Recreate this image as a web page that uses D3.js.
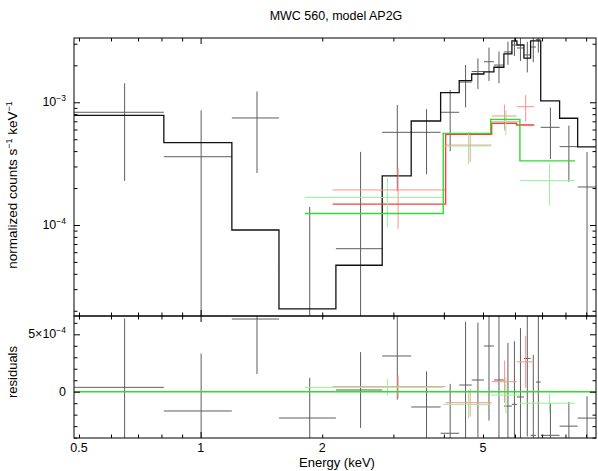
<!DOCTYPE html>
<html>
<head>
<meta charset="utf-8">
<script src="https://cdn.jsdelivr.net/npm/d3@7"></script>
<style>
  body { margin: 0; background: #fff; }
  text { font-family: "Liberation Sans", Arial, sans-serif; fill: #000; }
</style>
</head>
<body>
<div id="chart"></div>
<script>
// ---- data ----
// black instrument: bin edges (keV), folded model, data rate, residual, 1-sigma error
var blackEdges = [0.486, 0.811, 1.195, 1.563, 2.162, 2.815, 3.321, 3.927, 4.366, 4.688, 5.026,
                  5.321, 5.632, 5.895, 6.066, 6.313, 6.558, 6.76, 6.947, 7.737, 8.575, 9.517];
var blackModel = [7.83e-4, 4.69e-4, 9.1e-5, 2.07e-5, 4.7e-5, 2.51e-4, 7.04e-4, 1.197e-3, 1.5e-3, 1.7e-3,
                  1.77e-3, 1.93e-3, 2.48e-3, 3.16e-3, 2.93e-3, 2.29e-3, 3.16e-3, 3.16e-3, 1.025e-3, 7.41e-4, 4.33e-4];
var blackRate  = [8.29e-4, 3.6e-4, 7.45e-4, -2.1e-4, 6.41e-5, 5.69e-4, 5.69e-4, 8.29e-4, 1.46e-3, 1.78e-3,
                  2.14e-3, 2.01e-3, 2.57e-3, 2.93e-3, 2.77e-3, 2.43e-3, 2.82e-3, 3.24e-3, 6.25e-4, 4.35e-4, 2.04e-4];
var blackRes   = [3.8e-5, -1.68e-4, 6.33e-4, -2.29e-4, 1.5e-5, 3.11e-4, -1.33e-4, -3.62e-4, 5.8e-5, 1.02e-4,
                  3.98e-4, 1.02e-4, -1.25e-4, -1.1e-4, -4.6e-5, 2.9e-4, -3.8e-4, 8.4e-5, -3.8e-4, -3.0e-4, -2.3e-4];
var blackErr   = [6.0e-4, 5.0e-4, 4.8e-4, 3.5e-4, 3.3e-4, 3.8e-4, 3.1e-4, 4.3e-4, 5.5e-4, 5.0e-4,
                  6.5e-4, 5.8e-4, 5.5e-4, 5.5e-4, 6.0e-4, 6.8e-4, 7.0e-4, 7.0e-4, 2.8e-4, 2.1e-4, 1.9e-4];

// red instrument
var redEdges = [2.122, 4.041, 5.253, 6.056, 6.695];
var redModel = [1.48e-4, 5.48e-4, 6.74e-4, 6.53e-4];
var redRate  = [1.93e-4, 4.48e-4, 7.73e-4, 9.2e-4];
var redRes   = [4.4e-5, -9.6e-5, 8.7e-5, 2.6e-4];
var redErr   = [1.0e-4, 1.22e-4, 1.85e-4, 2.25e-4];

// green instrument
var greenEdges = [1.812, 3.986, 5.222, 6.170, 8.443];
var greenModel = [1.24e-4, 5.58e-4, 7.26e-4, 3.33e-4];
var greenRate  = [1.68e-4, 4.4e-4, 6.97e-4, 2.3e-4];
var greenRes   = [3.8e-5, -1.1e-4, -2.9e-5, -1.0e-4];
var greenErr   = [7.2e-5, 1.25e-4, 1.6e-4, 8.5e-5];

// ticks
var xMajor = [1];
var xMinor = [0.5, 0.6, 0.7, 0.8, 0.9, 2, 3, 4, 5, 6, 7, 8, 9];
var xLabels = [0.5, 1, 2, 5];
var yUpMajor = [1e-4, 1e-3];
var yUpMinor = [2e-5, 3e-5, 4e-5, 5e-5, 6e-5, 7e-5, 8e-5, 9e-5,
                2e-4, 3e-4, 4e-4, 5e-4, 6e-4, 7e-4, 8e-4, 9e-4, 2e-3, 3e-3];
var yResMajor = [0, 5e-4];
var yResMinor = [-4e-4, -3e-4, -2e-4, -1e-4, 1e-4, 2e-4, 3e-4, 4e-4, 6e-4];

// ---- layout ----
var W = 598, H = 471;
var fr = { left: 74, right: 596, top: 38, mid: 316, bot: 438 };

var svg = d3.select("#chart").append("svg")
  .attr("width", W)
  .attr("height", H);

var x = d3.scaleLog().domain([0.486, 9.52]).range([fr.left, fr.right]);
var yUp = d3.scaleLog().domain([1.813e-5, 3.34e-3]).range([fr.mid, fr.top]);
var yRes = d3.scaleLinear().domain([-4.033e-4, 6.594e-4]).range([fr.bot, fr.mid]);

var defs = svg.append("defs");
defs.append("clipPath").attr("id", "clipUp").append("rect")
  .attr("x", fr.left).attr("y", fr.top)
  .attr("width", fr.right - fr.left).attr("height", fr.mid - fr.top);
defs.append("clipPath").attr("id", "clipRes").append("rect")
  .attr("x", fr.left).attr("y", fr.mid)
  .attr("width", fr.right - fr.left).attr("height", fr.bot - fr.mid);

var upG = svg.append("g").attr("clip-path", "url(#clipUp)");
var resG = svg.append("g").attr("clip-path", "url(#clipRes)");

function floorLog(v) { return Math.max(v, 1e-7); }

// step histogram for a folded model
function drawModel(g, edges, vals, color, width) {
  var pts = vals.map(function(v, i) { return [edges[i], v]; });
  pts.push([edges[edges.length - 1], vals[vals.length - 1]]);
  var line = d3.line()
    .x(function(d) { return x(d[0]); })
    .y(function(d) { return yUp(d[1]); })
    .curve(d3.curveStepAfter);
  g.append("path")
    .attr("d", line(pts))
    .attr("fill", "none")
    .attr("stroke", color)
    .attr("stroke-width", width);
}

// error crosses: horizontal = bin width, vertical = +-err
function drawCrosses(g, edges, vals, errs, yScale, isLog, color) {
  var f = isLog ? floorLog : function(v) { return v; };
  var bins = vals.map(function(v, i) {
    return { lo: edges[i], hi: edges[i + 1], v: v, e: errs[i] };
  });
  var c = g.append("g").selectAll("g")
    .data(bins)
    .enter()
    .append("g")
    .attr("stroke", color)
    .attr("stroke-width", 1);
  c.append("line")
    .attr("x1", function(d) { return x(d.lo); })
    .attr("x2", function(d) { return x(d.hi); })
    .attr("y1", function(d) { return yScale(f(d.v)); })
    .attr("y2", function(d) { return yScale(f(d.v)); });
  c.append("line")
    .attr("x1", function(d) { return x((d.lo + d.hi) / 2); })
    .attr("x2", function(d) { return x((d.lo + d.hi) / 2); })
    .attr("y1", function(d) { return yScale(f(d.v - d.e)); })
    .attr("y2", function(d) { return yScale(f(d.v + d.e)); });
}

// upper panel
drawCrosses(upG, blackEdges, blackRate, blackErr, yUp, true, "#5e5e5e");
drawModel(upG, blackEdges, blackModel, "#111", 1.3);
drawCrosses(upG, redEdges, redRate, redErr, yUp, true, "#ff8f8f");
drawModel(upG, redEdges, redModel, "#ff3b3b", 1.4);
drawCrosses(upG, greenEdges, greenRate, greenErr, yUp, true, "#96f096");
drawModel(upG, greenEdges, greenModel, "#2fdc2f", 1.4);

// residual panel
drawCrosses(resG, blackEdges, blackRes, blackErr, yRes, false, "#5e5e5e");
drawCrosses(resG, redEdges, redRes, redErr, yRes, false, "#ff8f8f");
drawCrosses(resG, greenEdges, greenRes, greenErr, yRes, false, "#96f096");
resG.append("line")
  .attr("x1", fr.left).attr("x2", fr.right)
  .attr("y1", yRes(0)).attr("y2", yRes(0))
  .attr("stroke", "#2fdc2f")
  .attr("stroke-width", 1.5);

// frames
[[fr.top, fr.mid], [fr.mid, fr.bot]].forEach(function(p) {
  svg.append("rect")
    .attr("x", fr.left).attr("y", p[0])
    .attr("width", fr.right - fr.left).attr("height", p[1] - p[0])
    .attr("fill", "none")
    .attr("stroke", "#000")
    .attr("stroke-width", 1);
});

// inward ticks on every side
function tickAxis(axisFn, scale, vals, size, tx, ty) {
  svg.append("g")
    .attr("transform", "translate(" + tx + "," + ty + ")")
    .call(axisFn(scale).tickValues(vals).tickSize(size).tickSizeOuter(0).tickFormat(""))
    .call(function(g) {
      g.select(".domain").remove();
      g.selectAll("line").attr("stroke", "#000");
    });
}
var MAJ = -6, MIN = -3.5;
[[d3.axisTop, fr.top], [d3.axisBottom, fr.mid], [d3.axisTop, fr.mid], [d3.axisBottom, fr.bot]]
  .forEach(function(a) {
    tickAxis(a[0], x, xMajor, MAJ, 0, a[1]);
    tickAxis(a[0], x, xMinor, MIN, 0, a[1]);
  });
tickAxis(d3.axisLeft, yUp, yUpMajor, MAJ, fr.left, 0);
tickAxis(d3.axisLeft, yUp, yUpMinor, MIN, fr.left, 0);
tickAxis(d3.axisRight, yUp, yUpMajor, MAJ, fr.right, 0);
tickAxis(d3.axisRight, yUp, yUpMinor, MIN, fr.right, 0);
tickAxis(d3.axisLeft, yRes, yResMajor, MAJ, fr.left, 0);
tickAxis(d3.axisLeft, yRes, yResMinor, MIN, fr.left, 0);
tickAxis(d3.axisRight, yRes, yResMajor, MAJ, fr.right, 0);
tickAxis(d3.axisRight, yRes, yResMinor, MIN, fr.right, 0);

// x tick labels
svg.append("g").selectAll("text")
  .data(xLabels)
  .enter()
  .append("text")
  .attr("x", function(d) { return x(d); })
  .attr("y", 452)
  .attr("text-anchor", "middle")
  .style("font-size", "12.5px")
  .text(function(d) { return d; });

// y tick labels with superscripts
function supLabel(px, py, parts) {
  var t = svg.append("text")
    .attr("x", px).attr("y", py)
    .attr("text-anchor", "end")
    .style("font-size", "12.5px");
  parts.forEach(function(p) {
    t.append("tspan")
      .attr("dy", p[1])
      .style("font-size", p[2] + "px")
      .text(p[0]);
  });
}
supLabel(66, yUp(1e-3) + 4, [["10", 0, 12.5], ["\u22123", -5, 8.5]]);
supLabel(66, yUp(1e-4) + 4, [["10", 0, 12.5], ["\u22124", -5, 8.5]]);
supLabel(66, yRes(5e-4) + 4, [["5\u00d710", 0, 12.5], ["\u22124", -5, 8.5]]);
supLabel(66, yRes(0) + 4, [["0", 0, 12.5]]);

// titles
svg.append("text")
  .attr("x", 336).attr("y", 20)
  .attr("text-anchor", "middle")
  .style("font-size", "12.5px")
  .text("MWC 560, model AP2G");

svg.append("text")
  .attr("x", 337).attr("y", 467)
  .attr("text-anchor", "middle")
  .style("font-size", "13px")
  .text("Energy (keV)");

var yl = svg.append("text")
  .attr("transform", "translate(17,185) rotate(-90)")
  .attr("text-anchor", "middle")
  .style("font-size", "13.5px");
yl.append("tspan").text("normalized counts s");
yl.append("tspan").attr("dy", -5).style("font-size", "9px").text("\u22121");
yl.append("tspan").attr("dy", 5).text(" keV");
yl.append("tspan").attr("dy", -5).style("font-size", "9px").text("\u22121");

svg.append("text")
  .attr("transform", "translate(17,372) rotate(-90)")
  .attr("text-anchor", "middle")
  .style("font-size", "13px")
  .text("residuals");
</script>
</body>
</html>
